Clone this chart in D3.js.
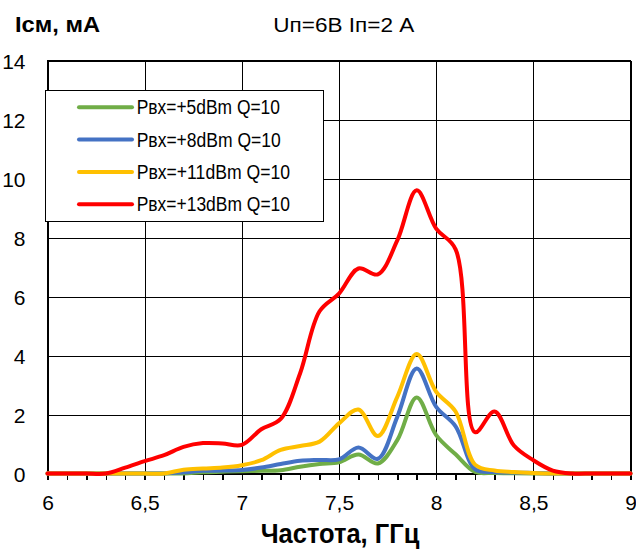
<!DOCTYPE html>
<html>
<head>
<meta charset="utf-8">
<script src="https://cdn.jsdelivr.net/npm/d3@7"></script>
<style>
  html, body { margin: 0; padding: 0; background: #fff; }
  svg { display: block; font-family: "Liberation Sans", Arial, sans-serif; }
</style>
</head>
<body>
<svg id="chart" width="636" height="551"></svg>
<script>
// ---- data ----
const freqs = [6.0,6.1,6.2,6.3,6.4,6.5,6.6,6.7,6.8,6.9,7.0,7.1,7.2,7.3,7.4,7.5,7.6,7.7,7.8,7.9,8.0,8.1,8.2,8.3,8.4,8.5,8.6,8.7,8.8,8.9,9.0];
const p5  = [0,0,0,0,0,0,0,0,0.04,0.06,0.08,0.09,0.11,0.23,0.32,0.38,0.64,0.34,1.13,2.58,1.3,0.65,0.05,0.02,0.01,0,0,0,0,0,0];
const p8  = [0,0,0,0,0,0,0,0.04,0.09,0.1,0.12,0.2,0.32,0.43,0.46,0.48,0.88,0.5,1.92,3.56,2.26,1.6,0.15,0.05,0.03,0.02,0,0,0,0,0];
const p11 = [0,0,0,0,0,0,0,0.13,0.17,0.2,0.28,0.45,0.8,0.93,1.08,1.7,2.17,1.27,2.6,4.05,2.77,2.1,0.3,0.1,0.05,0.02,0,0,0,0,0];
const p13 = [0,0,0,0,0.2,0.42,0.62,0.9,1.03,1.02,0.97,1.5,1.85,3.4,5.5,6.1,6.95,6.75,7.9,9.6,8.3,7.6,1.4,2.1,0.95,0.45,0.1,0,0,0,0];
const seriesNames = ["Pвх=+5dBm Q=10","Pвх=+8dBm Q=10","Pвх=+11dBm Q=10","Pвх=+13dBm Q=10"];
const seriesColors = ["#70AD47","#4472C4","#FFC000","#FF0000"];
const xTicks = [6,6.5,7,7.5,8,8.5,9];
const yTicks = [0,2,4,6,8,10,12,14];
const titleY = "Iсм, мА";
const titleTop = "Uп=6В Iп=2 А";
const titleX = "Частота, ГГц";

const allSeries = [p5, p8, p11, p13];

// ---- layout ----
const svg = d3.select("#chart");
const L = 47.5, R = 630.5, T = 60.5, B = 473.5;
const x = d3.scaleLinear().domain([6, 9]).range([L, R]);
const y = d3.scaleLinear().domain([0, 14]).range([B, T]);
const fmt = d => String(d).replace(".", ",");

// grid: vertical
svg.append("g")
  .attr("transform", `translate(0,${B})`)
  .call(d3.axisBottom(x).tickValues(xTicks).tickSize(-(B - T)).tickFormat(""))
  .call(g => g.select(".domain").remove())
  .call(g => g.selectAll("line").attr("stroke", "#000").attr("stroke-width", 1).attr("shape-rendering", "crispEdges"));
// grid: horizontal
svg.append("g")
  .attr("transform", `translate(${L},0)`)
  .call(d3.axisLeft(y).tickValues(yTicks).tickSize(-(R - L)).tickFormat(""))
  .call(g => g.select(".domain").remove())
  .call(g => g.selectAll("line").attr("stroke", "#000").attr("stroke-width", 1).attr("shape-rendering", "crispEdges"));

// plot border
svg.append("rect").attr("x", L).attr("y", T).attr("width", R - L).attr("height", B - T)
  .attr("fill", "none").attr("stroke", "#000").attr("stroke-width", 1).attr("shape-rendering", "crispEdges");

// minor ticks on x axis
svg.append("g")
  .attr("transform", `translate(0,${B})`)
  .call(d3.axisBottom(x).tickValues(d3.range(0, 31).map(i => 6 + i * 0.1)).tickSize(6).tickFormat(""))
  .call(g => g.select(".domain").remove())
  .call(g => g.selectAll("line").attr("stroke", "#000").attr("stroke-width", 1.5).attr("shape-rendering", "crispEdges"));

// x tick labels
svg.append("g")
  .attr("transform", `translate(0,${B})`)
  .call(d3.axisBottom(x).tickValues(xTicks).tickSize(0).tickFormat(fmt))
  .call(g => g.select(".domain").remove())
  .call(g => g.selectAll("text")
    .attr("y", 36.5).attr("dy", 0)
    .attr("font-size", 21).attr("font-family", "Liberation Sans, Arial, sans-serif")
    .attr("fill", "#000"));

// y tick labels
svg.append("g")
  .attr("transform", `translate(${L},0)`)
  .call(d3.axisLeft(y).tickValues(yTicks).tickSize(0).tickPadding(22).tickFormat(fmt))
  .call(g => g.select(".domain").remove())
  .call(g => g.selectAll("text")
    .attr("font-size", 21).attr("font-family", "Liberation Sans, Arial, sans-serif")
    .attr("dy", "0.36em")
    .attr("fill", "#000"));

// lines
const line = d3.line()
  .x((d, i) => x(freqs[i]))
  .y(d => y(d))
  .curve(d3.curveCatmullRom.alpha(0.5));

svg.append("g").selectAll("path")
  .data(allSeries)
  .join("path")
  .attr("d", d => line(d))
  .attr("fill", "none")
  .attr("stroke", (d, i) => seriesColors[i])
  .attr("stroke-width", 4)
  .attr("stroke-linejoin", "round")
  .attr("stroke-linecap", "round");

// legend
const leg = svg.append("g");
leg.append("rect").attr("x", 45.5).attr("y", 90.5).attr("width", 278).attr("height", 131)
  .attr("fill", "#fff").attr("stroke", "#000").attr("stroke-width", 1).attr("shape-rendering", "crispEdges");
const rowY = [107.3, 139.5, 172, 204.3];
const legW = [143.3, 144, 153.3, 153.3];
seriesNames.forEach((name, i) => {
  leg.append("line").attr("x1", 79).attr("x2", 132).attr("y1", rowY[i]).attr("y2", rowY[i])
    .attr("stroke", seriesColors[i]).attr("stroke-width", 4).attr("stroke-linecap", "round");
  leg.append("text").attr("x", 136.7).attr("y", rowY[i] + 7)
    .attr("font-size", 20)
    .attr("textLength", legW[i]).attr("lengthAdjust", "spacingAndGlyphs")
    .attr("fill", "#000")
    .text(name);
});

// titles
svg.append("text").attr("x", 15).attr("y", 31.7)
  .attr("font-size", 22).attr("font-weight", "bold")
  .attr("textLength", 85).attr("lengthAdjust", "spacingAndGlyphs")
  .text(titleY);
svg.append("text").attr("x", 273.3).attr("y", 31.7)
  .attr("font-size", 20)
  .attr("textLength", 141).attr("lengthAdjust", "spacingAndGlyphs")
  .text(titleTop);
svg.append("text").attr("x", 260.7).attr("y", 542.7)
  .attr("font-size", 28).attr("font-weight", "bold")
  .attr("textLength", 158.6).attr("lengthAdjust", "spacingAndGlyphs")
  .text(titleX);
</script>
</body>
</html>
